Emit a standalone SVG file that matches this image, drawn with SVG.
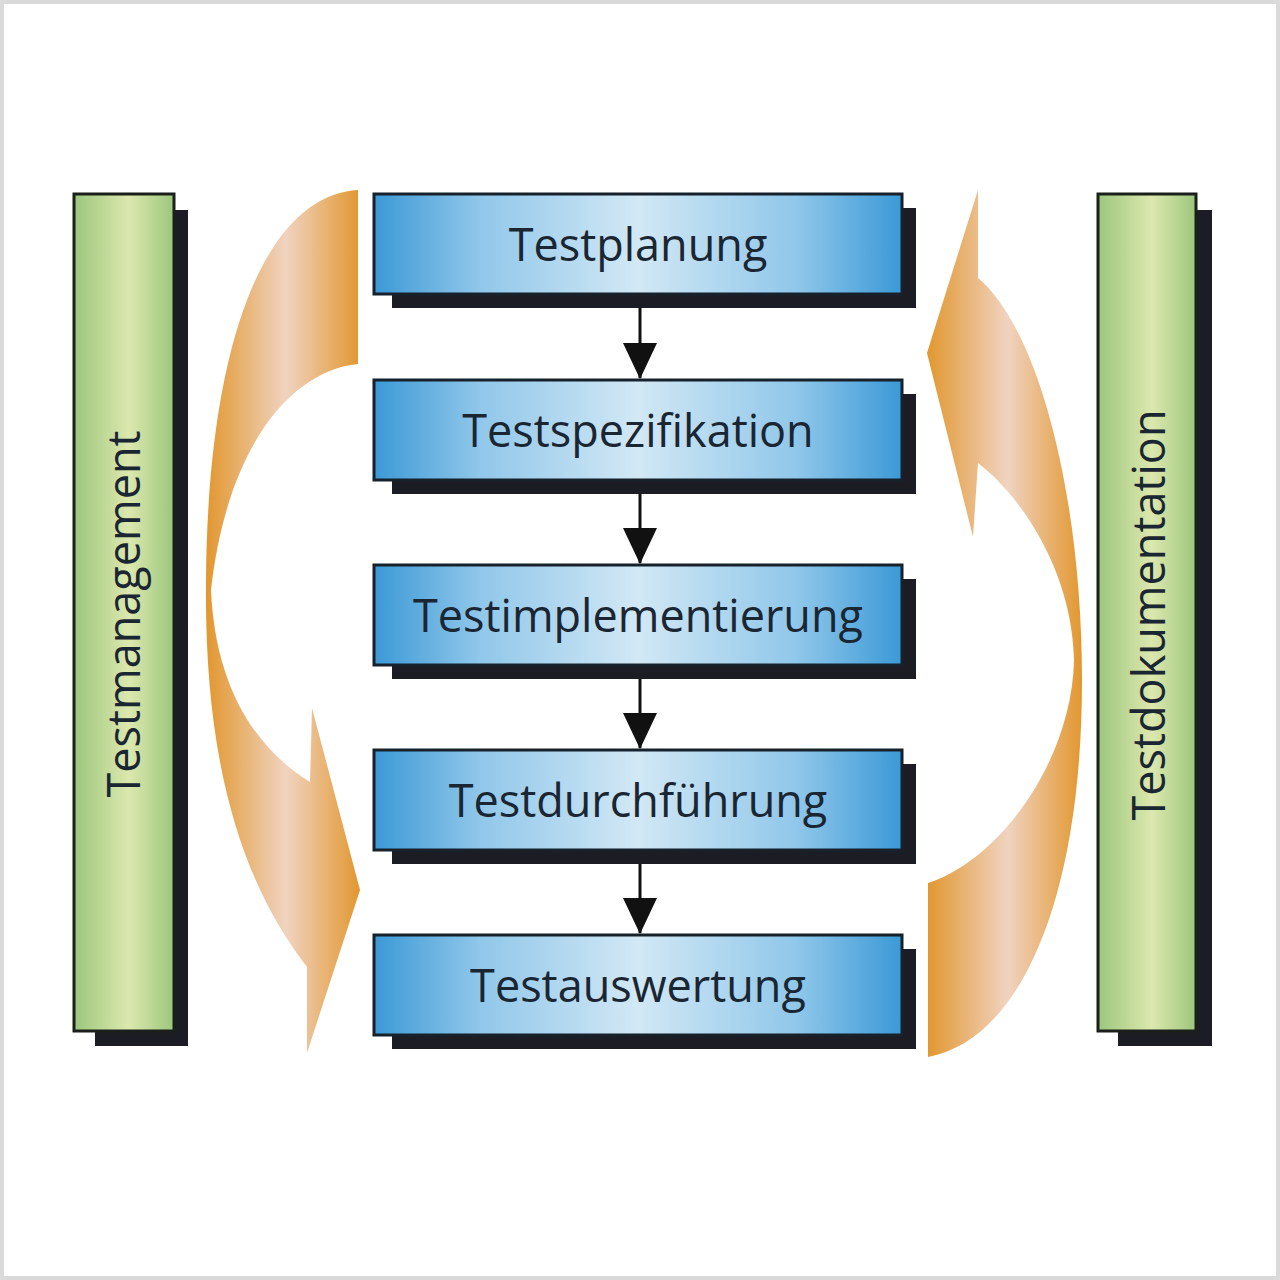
<svg xmlns="http://www.w3.org/2000/svg" width="1280" height="1280" viewBox="0 0 1280 1280">
<defs>
<linearGradient id="gBlue" x1="0" y1="0" x2="1" y2="0">
<stop offset="0" stop-color="#3b99d6"/>
<stop offset="0.2" stop-color="#90c7ea"/>
<stop offset="0.5" stop-color="#d2e8f5"/>
<stop offset="0.8" stop-color="#90c7ea"/>
<stop offset="1" stop-color="#3b99d6"/>
</linearGradient>
<linearGradient id="gGreen" x1="0" y1="0" x2="1" y2="0">
<stop offset="0" stop-color="#9cc67c"/>
<stop offset="0.55" stop-color="#dce8ae"/>
<stop offset="1" stop-color="#9cc67c"/>
</linearGradient>
<linearGradient id="gOrange" x1="0" y1="0" x2="1" y2="0">
<stop offset="0" stop-color="#e2972f"/>
<stop offset="0.52" stop-color="#f0d3c0"/>
<stop offset="1" stop-color="#e2972f"/>
</linearGradient>
<marker id="ah" viewBox="0 0 36 34" refX="35" refY="17" markerWidth="36" markerHeight="34" markerUnits="userSpaceOnUse" orient="auto">
<path d="M0 0 L36 17 L0 34 Z" fill="#111"/>
</marker>
</defs>
<style>
.shadow{fill:#1c1c24}
.box{fill:url(#gBlue);stroke:#17212b;stroke-width:3}
.bar{fill:url(#gGreen);stroke:#1a1f1a;stroke-width:3}
.lbl{font-family:"Open Sans","Liberation Sans",sans-serif;font-size:45px;fill:#1b2633;text-anchor:middle}
.conn{stroke:#111;stroke-width:3;fill:none}
.flow{fill:url(#gOrange)}
</style>
<rect x="2" y="2" width="1276" height="1276" fill="#ffffff" stroke="#dadada" stroke-width="4"/>

<g id="testmanagement">
<rect class="shadow" x="95" y="210" width="93" height="836"/>
<rect class="bar" x="74" y="194" width="100" height="837"/>
<text class="lbl" transform="translate(140,614) rotate(-90)">Testmanagement</text>
</g>

<g id="testdokumentation">
<rect class="shadow" x="1118" y="210" width="94" height="836"/>
<rect class="bar" x="1098" y="194" width="98" height="837"/>
<text class="lbl" transform="translate(1165,615) rotate(-90)">Testdokumentation</text>
</g>

<g id="flow-left">
<path class="flow" d="M358 190 C270 195 208 330 206 580 C204 760 240 880 307 967 L307 1053 L360 890 L312 708 L310 782 C250 745 215 680 211 590 C228 440 295 370 358 364 Z"/>
</g>
<g id="flow-right">
<path class="flow" d="M978 190 L927 353 L973 537 L978 463 C1020 495 1072 570 1074 660 C1072 760 1000 860 928 883 L928 1057 C1020 1040 1082 900 1082 680 C1082 500 1040 330 978 278 Z"/>
</g>

<g id="testplanung">
<rect class="shadow" x="392" y="208" width="524" height="100"/>
<rect class="box" x="374" y="194" width="528" height="100"/>
<text class="lbl" x="638" y="261">Testplanung</text>
</g>
<g id="testspezifikation">
<rect class="shadow" x="392" y="394" width="524" height="100"/>
<rect class="box" x="374" y="380" width="528" height="100"/>
<text class="lbl" x="638" y="447">Testspezifikation</text>
</g>
<g id="testimplementierung">
<rect class="shadow" x="392" y="579" width="524" height="100"/>
<rect class="box" x="374" y="565" width="528" height="100"/>
<text class="lbl" x="638" y="632">Testimplementierung</text>
</g>
<g id="testdurchfuehrung">
<rect class="shadow" x="392" y="764" width="524" height="100"/>
<rect class="box" x="374" y="750" width="528" height="100"/>
<text class="lbl" x="638" y="817">Testdurchführung</text>
</g>
<g id="testauswertung">
<rect class="shadow" x="392" y="949" width="524" height="100"/>
<rect class="box" x="374" y="935" width="528" height="100"/>
<text class="lbl" x="638" y="1002">Testauswertung</text>
</g>

<g id="connectors">
<line class="conn" x1="640" y1="308" x2="640" y2="378" marker-end="url(#ah)"/>
<line class="conn" x1="640" y1="494" x2="640" y2="563" marker-end="url(#ah)"/>
<line class="conn" x1="640" y1="679" x2="640" y2="748" marker-end="url(#ah)"/>
<line class="conn" x1="640" y1="864" x2="640" y2="933" marker-end="url(#ah)"/>
</g>
</svg>
